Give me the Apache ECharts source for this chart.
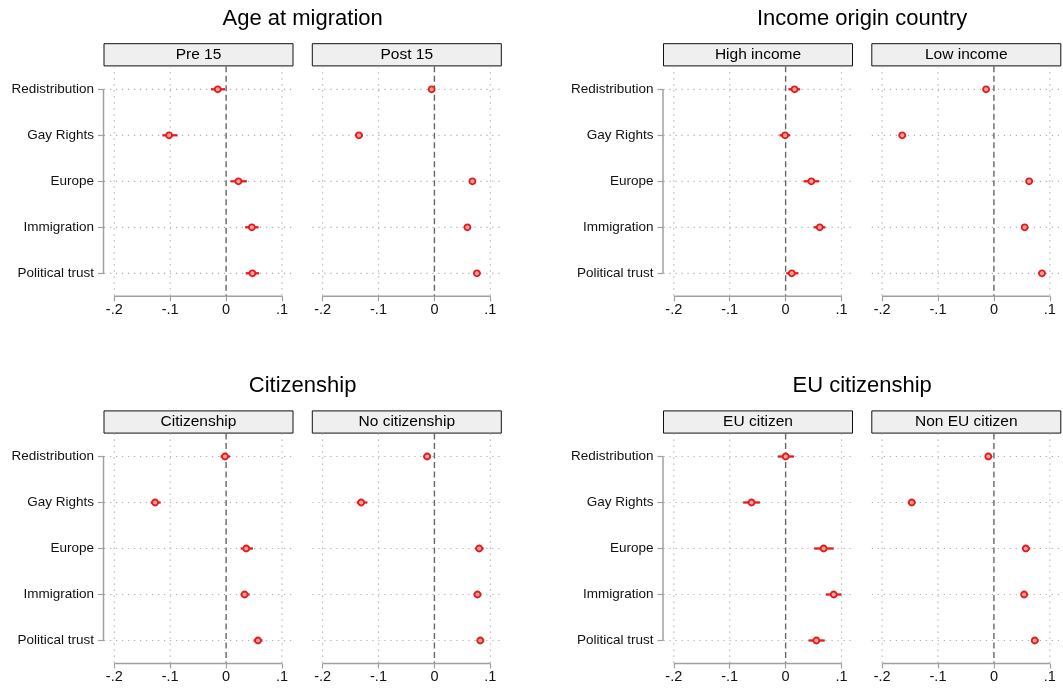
<!DOCTYPE html>
<html>
<head>
<meta charset="utf-8">
<script src="https://cdn.jsdelivr.net/npm/echarts@6/dist/echarts.min.js"></script>
<style>html,body{margin:0;padding:0;background:#fff;}#chart{width:1063px;height:690px;}</style>
</head>
<body>
<div id="chart"></div>
<script>
// ---- data ----
const categories = ['Redistribution', 'Gay Rights', 'Europe', 'Immigration', 'Political trust'];
const xTicks = [-0.2, -0.1, 0, 0.1];
const xGridTicks = [-0.2, -0.1, 0.1];
const groupTitles = ['Age at migration', 'Income origin country', 'Citizenship', 'EU citizenship'];
const panelTitles = ['Pre 15', 'Post 15', 'High income', 'Low income', 'Citizenship', 'No citizenship', 'EU citizen', 'Non EU citizen'];

const pre15Est = [-0.015, -0.102, 0.022, 0.046, 0.047];
const pre15Lo  = [-0.027, -0.114, 0.008, 0.034, 0.035];
const pre15Hi  = [-0.002, -0.087, 0.037, 0.058, 0.059];

const post15Est = [-0.005, -0.135, 0.068, 0.059, 0.076];
const post15Lo  = [-0.010, -0.142, 0.062, 0.054, 0.071];
const post15Hi  = [-0.001, -0.128, 0.074, 0.065, 0.082];

const highIncEst = [0.016, -0.001, 0.046, 0.061, 0.011];
const highIncLo  = [0.005, -0.011, 0.032, 0.050, 0.001];
const highIncHi  = [0.026, 0.008, 0.060, 0.071, 0.023];

const lowIncEst = [-0.014, -0.164, 0.063, 0.055, 0.086];
const lowIncLo  = [-0.020, -0.170, 0.057, 0.049, 0.080];
const lowIncHi  = [-0.009, -0.157, 0.070, 0.060, 0.092];

const citEst = [-0.002, -0.127, 0.036, 0.033, 0.057];
const citLo  = [-0.010, -0.135, 0.026, 0.026, 0.049];
const citHi  = [0.007, -0.117, 0.048, 0.042, 0.065];

const noCitEst = [-0.013, -0.131, 0.080, 0.077, 0.082];
const noCitLo  = [-0.020, -0.139, 0.073, 0.070, 0.076];
const noCitHi  = [-0.006, -0.120, 0.088, 0.084, 0.089];

const euEst = [0.000, -0.061, 0.068, 0.086, 0.055];
const euLo  = [-0.014, -0.076, 0.051, 0.072, 0.041];
const euHi  = [0.015, -0.046, 0.086, 0.100, 0.070];

const nonEuEst = [-0.010, -0.147, 0.057, 0.054, 0.073];
const nonEuLo  = [-0.016, -0.154, 0.051, 0.049, 0.067];
const nonEuHi  = [-0.004, -0.140, 0.065, 0.060, 0.080];

const panels = [
  [pre15Est, pre15Lo, pre15Hi], [post15Est, post15Lo, post15Hi],
  [highIncEst, highIncLo, highIncHi], [lowIncEst, lowIncLo, lowIncHi],
  [citEst, citLo, citHi], [noCitEst, noCitLo, noCitHi],
  [euEst, euLo, euHi], [nonEuEst, nonEuLo, nonEuHi]
];

// ---- layout ----
const X_MIN = -0.2184, X_MAX = 0.1196;
const gridLefts = [104, 312.3, 663.5, 871.8];
const gridTops = [66.3, 433.5];
const GW = 189, GH = 230;
const FONT = 'Arial, "Liberation Sans", sans-serif';
const RED = '#e41a1c';

function fmt(v) {
  if (Math.abs(v) < 1e-9) return '0';
  const s = (Math.round(v * 10) / 10).toString();
  return s.replace('0.', '.');
}

const grid = [], xAxis = [], yAxis = [], series = [], graphic = [];

panels.forEach((pd, p) => {
  const row = Math.floor(p / 4), col = p % 4;
  const left = gridLefts[col], top = gridTops[row];
  const isLeft = col % 2 === 0;
  grid.push({ left: left, top: top, width: GW, height: GH, containLabel: false });
  xAxis.push({
    gridIndex: p, type: 'value', min: X_MIN, max: X_MAX,
    axisLine: { show: false, onZero: false },
    axisTick: { show: true, customValues: xTicks, length: 5, lineStyle: { color: '#a0a0a0', width: 1.2 } },
    axisLabel: { customValues: xTicks, formatter: fmt, margin: 6, fontFamily: FONT, fontSize: 14.5, color: '#111' },
    splitLine: { show: false }
  });
  yAxis.push({
    gridIndex: p, type: 'category', data: categories, inverse: true,
    axisLine: { show: false, onZero: false },
    axisTick: { show: isLeft, alignWithLabel: true, length: 6, lineStyle: { color: '#a0a0a0', width: 1.2 } },
    axisLabel: { show: isLeft, margin: 10, fontFamily: FONT, fontSize: 13.5, color: '#111' },
    splitLine: { show: false }
  });
  // horizontal dotted gridlines
  series.push({
    type: 'custom', xAxisIndex: p, yAxisIndex: p, z: 1, silent: true,
    data: categories.map((c, i) => [0, i]),
    renderItem: (params, api) => {
      const cs = params.coordSys;
      const y = api.coord([0, api.value(1)])[1];
      return { type: 'line', shape: { x1: cs.x, y1: y, x2: cs.x + cs.width, y2: y },
        style: { stroke: '#b0b0b0', lineWidth: 1.2, lineDash: [1.2, 4.8] } };
    }
  });
  // vertical dotted gridlines
  series.push({
    type: 'custom', xAxisIndex: p, yAxisIndex: p, z: 1, silent: true,
    data: xGridTicks.map(v => [v, 0]),
    renderItem: (params, api) => {
      const cs = params.coordSys;
      const x = api.coord([api.value(0), 0])[0];
      return { type: 'line', shape: { x1: x, y1: cs.y, x2: x, y2: cs.y + cs.height },
        style: { stroke: '#b0b0b0', lineWidth: 1.2, lineDash: [1.2, 4.8] } };
    }
  });
  // reference line at 0
  series.push({
    type: 'custom', xAxisIndex: p, yAxisIndex: p, z: 2, silent: true,
    data: [[0, 0]],
    renderItem: (params, api) => {
      const cs = params.coordSys;
      const x = api.coord([api.value(0), 0])[0];
      return { type: 'line', shape: { x1: x, y1: cs.y, x2: x, y2: cs.y + cs.height },
        style: { stroke: '#666', lineWidth: 1.4, lineDash: [6, 3.5] } };
    }
  });
  // x axis line spanning tick range
  series.push({
    type: 'custom', xAxisIndex: p, yAxisIndex: p, z: 2, silent: true,
    data: [[xTicks[0], 0, xTicks[xTicks.length - 1]]],
    renderItem: (params, api) => {
      const cs = params.coordSys;
      const x1 = api.coord([api.value(0), 0])[0];
      const x2 = api.coord([api.value(2), 0])[0];
      const y = cs.y + cs.height;
      return { type: 'line', shape: { x1: x1, y1: y, x2: x2, y2: y },
        style: { stroke: '#a0a0a0', lineWidth: 1.5 } };
    }
  });
  if (isLeft) {
    // y axis line spanning categories
    series.push({
      type: 'custom', xAxisIndex: p, yAxisIndex: p, z: 2, silent: true,
      data: [[0, 0, categories.length - 1]],
      renderItem: (params, api) => {
        const cs = params.coordSys;
        const y1 = api.coord([0, api.value(1)])[1];
        const y2 = api.coord([0, api.value(2)])[1];
        return { type: 'line', shape: { x1: cs.x - 0.5, y1: y1, x2: cs.x - 0.5, y2: y2 },
          style: { stroke: '#a0a0a0', lineWidth: 1.5 } };
      }
    });
  }
  // confidence intervals
  series.push({
    type: 'custom', xAxisIndex: p, yAxisIndex: p, z: 3, silent: true,
    encode: { x: [0, 2], y: 1 },
    data: pd[1].map((lo, i) => [lo, i, pd[2][i]]),
    renderItem: (params, api) => {
      const a = api.coord([api.value(0), api.value(1)]);
      const b = api.coord([api.value(2), api.value(1)]);
      return { type: 'line', shape: { x1: a[0], y1: a[1], x2: b[0], y2: b[1] },
        style: { stroke: RED, lineWidth: 2.3 } };
    }
  });
  // point estimates
  series.push({
    type: 'scatter', xAxisIndex: p, yAxisIndex: p, z: 4, silent: true,
    symbol: 'circle', symbolSize: 6,
    itemStyle: { color: '#f7a0a0', borderColor: RED, borderWidth: 1.8, opacity: 1 },
    data: pd[0].map((v, i) => [v, i])
  });
  // strip
  graphic.push({
    type: 'rect', shape: { x: left, y: top - 22.6, width: GW, height: 22.2 },
    style: { fill: '#efefef', stroke: '#111', lineWidth: 1 },
    textContent: { style: { text: panelTitles[p], font: '15.5px ' + FONT, fill: '#000' } },
    textConfig: { position: 'inside' }
  });
});

// group titles
groupTitles.forEach((t, g) => {
  const row = Math.floor(g / 2), col = (g % 2) * 2;
  const cx = (gridLefts[col] + gridLefts[col + 1] + GW) / 2;
  graphic.push({
    type: 'text', x: cx, y: gridTops[row] - 47.5,
    style: { text: t, font: '22px ' + FONT, fill: '#000', align: 'center', verticalAlign: 'middle' }
  });
});

const chart = echarts.init(document.getElementById('chart'), null, { renderer: 'canvas' });
chart.setOption({
  backgroundColor: '#fff',
  animation: false,
  grid, xAxis, yAxis, series, graphic
});
</script>
</body>
</html>
